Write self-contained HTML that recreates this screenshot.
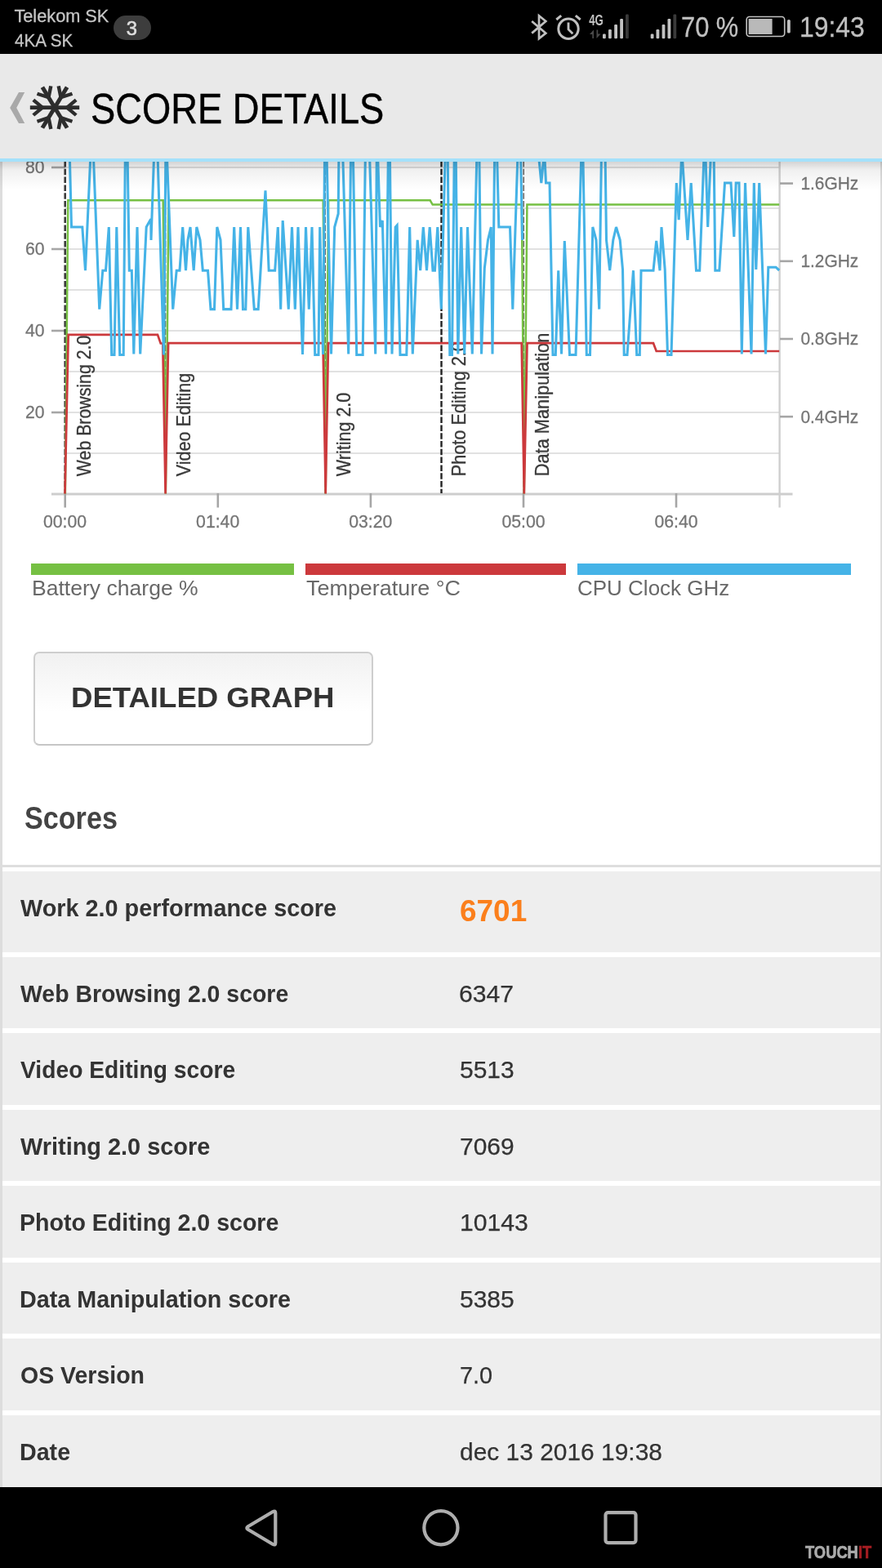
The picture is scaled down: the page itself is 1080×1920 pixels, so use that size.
<!DOCTYPE html>
<html lang="sk">
<head>
<meta charset="utf-8">
<title>Score details</title>
<style>
html,body{margin:0;padding:0;background:#fff;}
body{width:1080px;height:1920px;position:relative;overflow:hidden;font-family:"Liberation Sans",sans-serif;}
.t{position:absolute;white-space:nowrap;line-height:1;transform-origin:0 0;display:block;}
.abs{position:absolute;}
#statusbar{position:absolute;left:0;top:0;width:1080px;height:66px;background:#000;z-index:5;}
#header{position:absolute;left:0;top:66px;width:1080px;height:128px;background:#e9e9e9;border-bottom:4px solid #a4e1fb;z-index:4;}
#shadow{position:absolute;left:-3px;top:1px;width:1080px;height:34px;background:linear-gradient(rgba(0,0,0,0.17),rgba(0,0,0,0.06) 30%,rgba(0,0,0,0) 100%);z-index:3;pointer-events:none;}
#content{position:absolute;left:0;top:197px;width:1075px;height:1624px;border-left:3px solid #dddddd;border-right:2px solid #dddddd;background:#fff;}
#chart{position:absolute;left:-3px;top:-197px;z-index:2;}
#chart text{font-family:"Liberation Sans",sans-serif;}
.bar{position:absolute;top:493px;height:14px;z-index:3;}
#btn{position:absolute;left:38px;top:601px;width:411.5px;height:111px;border:2px solid #cecece;border-bottom-color:#c6c6c6;border-radius:7px;background:linear-gradient(#f1f1f1,#ffffff 65%);z-index:2;}
.row{position:absolute;left:0;width:1075px;background:#eeeeee;z-index:2;}
#divider{position:absolute;left:0;width:1075px;top:862px;height:3px;background:#dedede;z-index:2;}
#nav{position:absolute;left:0;top:1821px;width:1080px;height:99px;background:#000;z-index:5;}
.t{z-index:3;}
h1,h2,p{margin:0;font-weight:normal;}
</style>
</head>
<body>
<div id="statusbar">
<span class="t" style="left:17.40px;top:8.70px;font-size:21.74px;color:#c6c6c6;transform:scaleX(1.0000);-webkit-text-stroke:0.3px #c6c6c6;">Telekom SK</span>
<span class="t" style="left:18.20px;top:38.60px;font-size:21.74px;color:#c6c6c6;transform:scaleX(0.9514);-webkit-text-stroke:0.3px #c6c6c6;">4KA SK</span>
<div class="abs badge" style="left:138.5px;top:18.5px;width:46px;height:30px;border-radius:15px;background:#3d3d3d;"><span class="t" style="left:16.30px;top:4.10px;font-size:23.77px;color:#dedede;transform:scaleX(1.0000);-webkit-text-stroke:0.6px #dedede;">3</span></div>
<svg class="abs" style="left:640px;top:0" width="340" height="66" viewBox="640 0 340 66">
<g fill="none" stroke="#c0c0c0" stroke-width="2.7" stroke-linejoin="miter">
<polyline points="651.2,26 668.3,40.6 660,47.3 660,19.3 668.3,26 651.2,40.6"/>
<circle cx="696" cy="35.2" r="12.2" stroke-width="3"/>
<polyline points="696,27.5 696,36 701.3,41.3" stroke-width="2.8"/>
<line x1="681.3" y1="24" x2="687.2" y2="19.2" stroke-width="3"/>
<line x1="704.8" y1="19.2" x2="710.7" y2="24" stroke-width="3"/>
</g>
<text x="721.2" y="31" font-size="17.5" font-weight="bold" fill="#c2c2c2" font-family="Liberation Sans, sans-serif" textLength="17.6" lengthAdjust="spacingAndGlyphs">4G</text>
<g fill="#4a4a4a"><path d="M722 42 L727 36.5 L727 47 L725.3 47 L725.3 42 Z"/><path d="M735.5 41.5 L730.5 47 L730.5 36.5 L732.2 36.5 L732.2 41.5 Z"/></g>
<g fill="#c2c2c2">
<rect x="738" y="41.5" width="3.8" height="5.8" rx="1.2"/>
<rect x="745" y="36" width="3.8" height="11.3" rx="1.2"/>
<rect x="752.2" y="30" width="3.8" height="17.3" rx="1.2"/>
<rect x="759.2" y="23" width="3.8" height="24.3" rx="1.2"/>
<rect x="796.7" y="41.5" width="3.8" height="5.8" rx="1.2"/>
<rect x="803.5" y="36" width="3.8" height="11.3" rx="1.2"/>
<rect x="810.6" y="30" width="3.8" height="17.3" rx="1.2"/>
<rect x="817.5" y="23" width="3.8" height="24.3" rx="1.2"/>
</g>
<g fill="#3a3a3a">
<rect x="766" y="17.5" width="3.8" height="29.8" rx="1.2"/>
<rect x="824.4" y="17.5" width="3.8" height="29.8" rx="1.2"/>
</g>
<rect x="914.2" y="20.5" width="46.5" height="24" rx="3.5" fill="none" stroke="#c2c2c2" stroke-width="1.6"/>
<rect x="916.6" y="23" width="29" height="19" fill="#b9b9b9"/>
<rect x="964" y="24" width="3.8" height="16.5" rx="1.6" fill="#c2c2c2"/>
</svg>
<span class="t" style="left:833.83px;top:15.50px;font-size:34.78px;color:#c0c0c0;transform:scaleX(0.8868);-webkit-text-stroke:0.3px #c0c0c0;">70 %</span>
<span class="t" style="left:978.55px;top:15.50px;font-size:34.78px;color:#c0c0c0;transform:scaleX(0.9159);-webkit-text-stroke:0.3px #c0c0c0;">19:43</span>
</div>
<div id="header">
<svg class="abs" style="left:0;top:30px" width="110" height="72" viewBox="0 96 110 72">
<polygon points="23,113 30.2,113 20.2,132 30.2,151 23,151 12.2,132" fill="#a9a9a9"/>
<g stroke="#2d2d2d" stroke-width="5" fill="none" stroke-linecap="butt" transform="translate(0 131.7) scale(1 0.955) translate(0 -131.7)">
<g transform="rotate(0 67 131.7)"><line x1="67" y1="131.7" x2="97.2" y2="131.7"/><polyline points="93.2,122 82,131.7 93.2,141.4" stroke-width="4.4"/></g>
<g transform="rotate(60 67 131.7)"><line x1="67" y1="131.7" x2="97.2" y2="131.7"/><polyline points="93.2,122 82,131.7 93.2,141.4" stroke-width="4.4"/></g>
<g transform="rotate(120 67 131.7)"><line x1="67" y1="131.7" x2="97.2" y2="131.7"/><polyline points="93.2,122 82,131.7 93.2,141.4" stroke-width="4.4"/></g>
<g transform="rotate(180 67 131.7)"><line x1="67" y1="131.7" x2="97.2" y2="131.7"/><polyline points="93.2,122 82,131.7 93.2,141.4" stroke-width="4.4"/></g>
<g transform="rotate(240 67 131.7)"><line x1="67" y1="131.7" x2="97.2" y2="131.7"/><polyline points="93.2,122 82,131.7 93.2,141.4" stroke-width="4.4"/></g>
<g transform="rotate(300 67 131.7)"><line x1="67" y1="131.7" x2="97.2" y2="131.7"/><polyline points="93.2,122 82,131.7 93.2,141.4" stroke-width="4.4"/></g>
</g>
</svg>
<h1 class="t" style="left:111.24px;top:42.10px;font-size:51.45px;color:#000;transform:scaleX(0.8812);-webkit-text-stroke:0.45px #000;">SCORE DETAILS</h1>
</div>
<div id="content">
<svg id="chart" width="1080" height="680" viewBox="0 0 1080 680">
<g id="grid">
<line x1="80" y1="205" x2="954.5" y2="205" stroke="#e1e1e1" stroke-width="1.9"/>
<line x1="80" y1="255" x2="954.5" y2="255" stroke="#e1e1e1" stroke-width="1.9"/>
<line x1="80" y1="305" x2="954.5" y2="305" stroke="#e1e1e1" stroke-width="1.9"/>
<line x1="80" y1="355" x2="954.5" y2="355" stroke="#e1e1e1" stroke-width="1.9"/>
<line x1="80" y1="405" x2="954.5" y2="405" stroke="#e1e1e1" stroke-width="1.9"/>
<line x1="80" y1="455" x2="954.5" y2="455" stroke="#e1e1e1" stroke-width="1.9"/>
<line x1="80" y1="505" x2="954.5" y2="505" stroke="#e1e1e1" stroke-width="1.9"/>
<line x1="80" y1="555" x2="954.5" y2="555" stroke="#e1e1e1" stroke-width="1.9"/>
</g>
<g id="axes">
<line x1="63" y1="605" x2="970.5" y2="605" stroke="#cdcdcd" stroke-width="2.8"/>
<line x1="954.6" y1="197" x2="954.6" y2="621.5" stroke="#cfcfcf" stroke-width="2.4"/>
<line x1="63" y1="205" x2="80" y2="205" stroke="#a6a6a6" stroke-width="2.6"/>
<line x1="63" y1="305" x2="80" y2="305" stroke="#a6a6a6" stroke-width="2.6"/>
<line x1="63" y1="405" x2="80" y2="405" stroke="#a6a6a6" stroke-width="2.6"/>
<line x1="63" y1="505" x2="80" y2="505" stroke="#a6a6a6" stroke-width="2.6"/>
<line x1="955" y1="224.6" x2="971" y2="224.6" stroke="#a6a6a6" stroke-width="2.6"/>
<line x1="955" y1="319.8" x2="971" y2="319.8" stroke="#a6a6a6" stroke-width="2.6"/>
<line x1="955" y1="415" x2="971" y2="415" stroke="#a6a6a6" stroke-width="2.6"/>
<line x1="955" y1="510.2" x2="971" y2="510.2" stroke="#a6a6a6" stroke-width="2.6"/>
<line x1="79.7" y1="604" x2="79.7" y2="621.5" stroke="#a6a6a6" stroke-width="2.6"/>
<line x1="266.8" y1="604" x2="266.8" y2="621.5" stroke="#a6a6a6" stroke-width="2.6"/>
<line x1="453.9" y1="604" x2="453.9" y2="621.5" stroke="#a6a6a6" stroke-width="2.6"/>
<line x1="641" y1="604" x2="641" y2="621.5" stroke="#a6a6a6" stroke-width="2.6"/>
<line x1="828" y1="604" x2="828" y2="621.5" stroke="#a6a6a6" stroke-width="2.6"/>
<text x="31.00" y="212.20" font-size="22.67" fill="#757575" stroke="#757575" stroke-width="0.3" textLength="23.55" lengthAdjust="spacingAndGlyphs">80</text>
<text x="31.00" y="312.20" font-size="22.67" fill="#757575" stroke="#757575" stroke-width="0.3" textLength="23.55" lengthAdjust="spacingAndGlyphs">60</text>
<text x="31.00" y="412.20" font-size="22.67" fill="#757575" stroke="#757575" stroke-width="0.3" textLength="23.55" lengthAdjust="spacingAndGlyphs">40</text>
<text x="31.00" y="512.20" font-size="22.67" fill="#757575" stroke="#757575" stroke-width="0.3" textLength="23.55" lengthAdjust="spacingAndGlyphs">20</text>
<text x="980.40" y="232.00" font-size="22.97" fill="#757575" stroke="#757575" stroke-width="0.3" textLength="70.80" lengthAdjust="spacingAndGlyphs">1.6GHz</text>
<text x="980.40" y="327.20" font-size="22.97" fill="#757575" stroke="#757575" stroke-width="0.3" textLength="70.80" lengthAdjust="spacingAndGlyphs">1.2GHz</text>
<text x="980.40" y="422.40" font-size="22.97" fill="#757575" stroke="#757575" stroke-width="0.3" textLength="70.80" lengthAdjust="spacingAndGlyphs">0.8GHz</text>
<text x="980.40" y="517.60" font-size="22.97" fill="#757575" stroke="#757575" stroke-width="0.3" textLength="70.80" lengthAdjust="spacingAndGlyphs">0.4GHz</text>
<text x="53.00" y="646.00" font-size="22.82" fill="#757575" stroke="#757575" stroke-width="0.3" textLength="53.15" lengthAdjust="spacingAndGlyphs">00:00</text>
<text x="240.10" y="646.00" font-size="22.82" fill="#757575" stroke="#757575" stroke-width="0.3" textLength="53.15" lengthAdjust="spacingAndGlyphs">01:40</text>
<text x="427.20" y="646.00" font-size="22.82" fill="#757575" stroke="#757575" stroke-width="0.3" textLength="53.15" lengthAdjust="spacingAndGlyphs">03:20</text>
<text x="614.40" y="646.00" font-size="22.82" fill="#757575" stroke="#757575" stroke-width="0.3" textLength="53.15" lengthAdjust="spacingAndGlyphs">05:00</text>
<text x="801.40" y="646.00" font-size="22.82" fill="#757575" stroke="#757575" stroke-width="0.3" textLength="53.15" lengthAdjust="spacingAndGlyphs">06:40</text>
</g>
<g id="events">
<line x1="79.7" y1="197" x2="79.7" y2="604" stroke="#3c3c3c" stroke-width="2.6" stroke-dasharray="7.5 2.3"/>
<line x1="202.6" y1="197" x2="202.6" y2="604" stroke="#555" stroke-width="1.4" stroke-dasharray="7.5 2.3"/>
<line x1="398.2" y1="197" x2="398.2" y2="604" stroke="#555" stroke-width="1.4" stroke-dasharray="7.5 2.3"/>
<line x1="540.5" y1="197" x2="540.5" y2="604" stroke="#222" stroke-width="2.4" stroke-dasharray="7.5 2.3"/>
<line x1="641.2" y1="197" x2="641.2" y2="604" stroke="#555" stroke-width="1.4" stroke-dasharray="7.5 2.3"/>
<text transform="translate(110.90,583.20) rotate(-90)" x="-0.00" y="0" font-size="23.20" fill="#3a3a3a" stroke="#3a3a3a" stroke-width="0.35" textLength="172.54" lengthAdjust="spacingAndGlyphs">Web Browsing 2.0</text>
<text transform="translate(233.20,583.20) rotate(-90)" x="-0.00" y="0" font-size="23.20" fill="#3a3a3a" stroke="#3a3a3a" stroke-width="0.35" textLength="126.51" lengthAdjust="spacingAndGlyphs">Video Editing</text>
<text transform="translate(429.20,583.20) rotate(-90)" x="-0.00" y="0" font-size="23.20" fill="#3a3a3a" stroke="#3a3a3a" stroke-width="0.35" textLength="102.53" lengthAdjust="spacingAndGlyphs">Writing 2.0</text>
<text transform="translate(570.00,583.20) rotate(-90)" x="-0.00" y="0" font-size="23.20" fill="#3a3a3a" stroke="#3a3a3a" stroke-width="0.35" textLength="165.04" lengthAdjust="spacingAndGlyphs">Photo Editing 2.0</text>
<text transform="translate(672.30,583.20) rotate(-90)" x="-0.00" y="0" font-size="23.20" fill="#3a3a3a" stroke="#3a3a3a" stroke-width="0.35" textLength="175.52" lengthAdjust="spacingAndGlyphs">Data Manipulation</text>
</g>
<g id="series" fill="none" stroke-linejoin="miter">
<polyline points="79.9,604.5 83.3,245.3 199.7,245.3 202.9,604.5 206.5,245.3 395.7,245.3 398.7,604.5 402.2,245.3 526.7,245.3 529.7,250.6 638.9,250.6 641.8,604.5 645.4,250.6 954.2,250.6" stroke="#76c043" stroke-width="2.5"/>
<polyline points="79.5,604.5 83.7,409.8 193.0,409.8 196.7,420.5 199.3,420.5 202.6,604.5 206.1,420.2 395.5,420.2 398.7,604.5 402.0,420.2 638.7,420.2 641.8,604.5 645.5,420.2 800.0,420.2 803.7,430.0 954.2,430.0" stroke="#cc393c" stroke-width="2.7"/>
<polyline points="84.8,170.0 87.5,278.0 100.8,278.0 104.5,331.2 111.8,170.0 113.6,170.0 121.7,378.6 125.8,331.2 129.5,331.2 133.3,278.0 136.7,434.5 140.0,434.5 142.8,278.0 146.7,434.5 151.2,434.5 153.5,170.0 155.8,170.0 158.3,331.2 161.3,331.2 163.8,433.5 168.0,278.0 171.7,433.5 179.2,278.0 184.7,268.3 185.0,294.0 189.3,170.0 192.4,170.0 200.5,434.5 203.1,170.0 203.6,170.0 211.7,378.6 216.2,331.2 220.0,331.2 223.7,278.0 227.5,331.2 230.0,293.8 233.0,278.0 237.2,331.2 240.8,278.0 245.0,293.8 248.3,331.2 254.5,331.2 258.0,378.6 262.5,378.6 265.8,278.0 270.0,293.8 273.7,378.6 283.0,378.6 286.7,278.0 290.5,378.6 294.5,278.0 297.5,378.6 300.8,378.6 303.8,278.0 311.3,378.6 316.2,378.6 325.0,233.3 329.2,331.2 336.7,331.2 340.3,278.0 343.7,378.6 346.2,270.0 353.3,378.6 357.5,278.0 361.3,378.6 365.0,278.0 370.5,434.0 374.5,278.0 378.3,378.6 382.0,278.0 385.7,434.5 390.0,434.5 391.7,278.0 395.5,434.0 397.7,170.0 399.6,170.0 405.5,433.5 409.7,278.0 414.2,261.7 415.1,170.0 419.2,170.0 426.7,433.5 429.8,170.0 432.0,170.0 436.7,434.5 444.2,434.5 447.6,170.0 452.0,170.0 459.7,433.5 461.4,170.0 461.9,170.0 465.5,278.0 468.3,270.0 472.5,433.5 475.6,170.0 477.2,170.0 480.0,433.5 484.2,278.0 486.2,275.8 490.0,434.5 497.8,434.5 501.7,278.0 505.3,433.5 511.2,293.8 514.7,331.2 518.3,278.0 522.5,331.2 526.2,278.0 530.0,331.2 532.5,331.2 535.8,278.0 540.3,378.6 545.7,170.0 548.0,170.0 550.8,434.5 553.5,434.5 556.5,170.0 558.0,170.0 560.8,433.5 564.7,278.0 568.7,433.5 572.5,278.0 578.3,433.5 584.3,170.0 586.7,170.0 589.5,433.5 593.3,328.3 597.5,293.8 601.3,278.0 603.0,433.5 605.8,170.0 608.1,170.0 610.8,278.0 624.5,278.0 627.8,378.6 634.6,170.0 637.3,170.0 639.5,294.0" stroke="#45b3e7" stroke-width="3.05" stroke-miterlimit="3"/>
<polyline points="657.6,170.0 662.8,224.0 668.0,170.0 665.8,170.0 668.5,224.0 673.0,224.0 677.0,434.5 680.3,434.5 683.7,331.2 687.5,433.5 691.3,295.0 697.5,434.5 705.0,434.5 712.4,170.0 713.5,170.0 718.3,434.5 722.5,434.5 725.8,278.0 730.0,293.8 733.7,378.6 736.7,170.0 740.8,170.0 742.5,293.8 746.7,331.2 750.8,293.8 754.5,278.0 759.2,293.8 762.5,330.0 764.2,434.5 768.0,434.5 775.5,331.2 779.7,434.5 783.3,434.5 785.0,331.2 800.0,331.2 803.7,295.0 808.0,331.2 810.0,278.0 814.2,330.0 817.5,434.5 822.0,434.5 828.3,224.0 831.2,269.2 835.5,170.0 834.0,170.0 842.0,293.8 846.2,224.0 852.5,331.2 856.7,331.2 862.8,170.0 863.3,170.0 866.7,278.0 871.2,170.0 873.9,170.0 875.8,331.2 880.8,331.2 887.5,224.0 895.0,224.0 898.8,290.0 901.2,224.0 905.0,224.0 908.3,433.5 912.5,224.0 920.0,433.5 923.3,224.0 925.8,330.0 929.7,224.0 937.5,433.5 940.8,327.2 950.0,327.2 954.2,331.0" stroke="#45b3e7" stroke-width="3.05" stroke-miterlimit="3"/>
</g>
</svg>
<div id="shadow"></div>
<div id="legend">
<div class="bar" style="left:35.3px;width:321.7px;background:#76c043"></div>
<div class="bar" style="left:371px;width:319px;background:#cc393c"></div>
<div class="bar" style="left:704px;width:335px;background:#45b3e7"></div>
<span class="t" style="left:35.62px;top:511.30px;font-size:25.51px;color:#686868;transform:scaleX(1.0415);">Battery charge %</span>
<span class="t" style="left:371.50px;top:511.30px;font-size:25.51px;color:#686868;transform:scaleX(1.0562);">Temperature °C</span>
<span class="t" style="left:704.48px;top:511.30px;font-size:25.51px;color:#686868;transform:scaleX(1.0193);">CPU Clock GHz</span>
</div>
<div id="btn"><span class="t" style="left:44.40px;top:37.30px;font-size:34.78px;color:#333;font-weight:bold;transform:scaleX(1.0523);">DETAILED GRAPH</span></div>
<h2 class="t" style="left:27.10px;top:787.00px;font-size:37.97px;color:#444;font-weight:bold;transform:scaleX(0.8992);">Scores</h2>
<div id="divider"></div>
<div class="row" style="top:870px;height:99px"><span class="t" style="left:22.00px;top:29.60px;font-size:29.28px;color:#333333;font-weight:bold;transform:scaleX(0.9847);">Work 2.0 performance score</span><span class="t" style="left:559.72px;top:29.50px;font-size:37.68px;color:#fb7f1c;font-weight:bold;transform:scaleX(0.9805);">6701</span></div>
<div class="row" style="top:975px;height:87px"><span class="t" style="left:22.00px;top:29.60px;font-size:29.28px;color:#333333;font-weight:bold;transform:scaleX(0.9718);">Web Browsing 2.0 score</span><span class="t" style="left:559.27px;top:29.60px;font-size:29.28px;color:#333333;transform:scaleX(1.0302);-webkit-text-stroke:0.25px #333;">6347</span></div>
<div class="row" style="top:1068px;height:88px"><span class="t" style="left:22.00px;top:30.10px;font-size:29.28px;color:#333333;font-weight:bold;transform:scaleX(0.9651);">Video Editing score</span><span class="t" style="left:559.78px;top:30.10px;font-size:29.28px;color:#333333;transform:scaleX(1.0222);-webkit-text-stroke:0.25px #333;">5513</span></div>
<div class="row" style="top:1162px;height:87px"><span class="t" style="left:22.00px;top:29.60px;font-size:29.28px;color:#333333;font-weight:bold;transform:scaleX(0.9872);">Writing 2.0 score</span><span class="t" style="left:559.78px;top:29.60px;font-size:29.28px;color:#333333;transform:scaleX(1.0222);-webkit-text-stroke:0.25px #333;">7069</span></div>
<div class="row" style="top:1255px;height:88px"><span class="t" style="left:21.35px;top:30.10px;font-size:29.28px;color:#333333;font-weight:bold;transform:scaleX(0.9758);">Photo Editing 2.0 score</span><span class="t" style="left:559.74px;top:30.10px;font-size:29.28px;color:#333333;transform:scaleX(1.0308);-webkit-text-stroke:0.25px #333;">10143</span></div>
<div class="row" style="top:1349px;height:87px"><span class="t" style="left:21.34px;top:29.60px;font-size:29.28px;color:#333333;font-weight:bold;transform:scaleX(0.9812);">Data Manipulation score</span><span class="t" style="left:559.78px;top:29.60px;font-size:29.28px;color:#333333;transform:scaleX(1.0222);-webkit-text-stroke:0.25px #333;">5385</span></div>
<div class="row" style="top:1442px;height:88px"><span class="t" style="left:21.63px;top:29.80px;font-size:29.28px;color:#333333;font-weight:bold;transform:scaleX(0.9732);">OS Version</span><span class="t" style="left:559.82px;top:30.10px;font-size:29.28px;color:#333333;transform:scaleX(0.9846);-webkit-text-stroke:0.25px #333;">7.0</span></div>
<div class="row" style="top:1536px;height:88px"><span class="t" style="left:21.34px;top:29.60px;font-size:29.28px;color:#333333;font-weight:bold;transform:scaleX(0.9787);">Date</span><span class="t" style="left:559.78px;top:29.60px;font-size:29.28px;color:#333333;transform:scaleX(1.0225);-webkit-text-stroke:0.25px #333;">dec 13 2016 19:38</span></div>
</div>
<div id="nav">
<svg class="abs" style="left:0;top:0" width="1080" height="99" viewBox="0 1821 1080 99">
<g fill="none" stroke="#aeaeae" stroke-width="4.2" stroke-linejoin="round">
<path d="M303.6 1872.8 Q301 1871 303.6 1869.2 L334.2 1851 Q337.3 1849.4 337.3 1852.8 L337.3 1889.2 Q337.3 1892.6 334.2 1891 Z"/>
<circle cx="539.9" cy="1870.7" r="20.6"/>
<rect x="741.5" y="1852.1" width="37" height="37" rx="3"/>
</g>
</svg>
<span class="t" style="left:986.30px;top:70.00px;font-size:21.45px;color:#ababab;font-weight:bold;transform:scaleX(0.8554);-webkit-text-stroke:0.7px #ababab;">TOUCH</span>
<span class="t" style="left:1051.34px;top:70.00px;font-size:21.45px;color:#a51d22;font-weight:bold;transform:scaleX(0.8556);-webkit-text-stroke:0.7px #a51d22;">IT</span>
</div>
</body>
</html>
